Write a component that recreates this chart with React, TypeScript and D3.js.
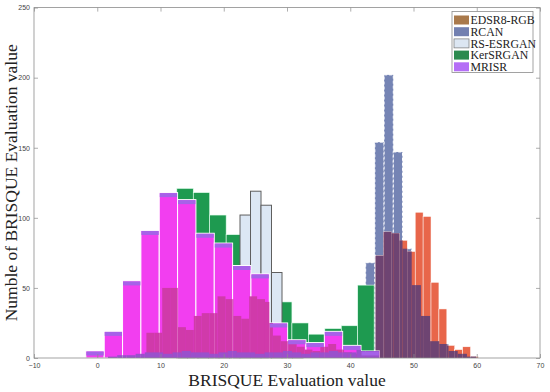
import React, { useEffect, useRef } from 'react';
import * as d3 from 'd3';

// histogram layout per method: first bin edge and bin width (BRISQUE units), then counts per bin
const edsrStart = 7.77;
const edsrWidth = 1.25;
const edsrCounts = [18, 18, 50, 50, 22, 20, 30, 32, 32, 44, 42, 30, 28, 44, 42, 40, 16, 12, 10, 8, 6, 5, 8, 10, 6, 4, 3, 3, 4,
    73, 90, 89, 84, 76, 104, 101, 54, 35, 9, 6, 8, 1];

const rcanStart = 1.70;
const rcanWidth = 1.455;
const rcanCounts = [1, 2, 2, 3, 4, 4, 3, 4, 5, 4, 4, 3, 4, 5, 4, 4, 3, 4, 4, 5, 4, 3, 4, 4, 5, 4, 4, 6,
    68, 154, 202, 147, 78, 52, 30, 12, 10, 5, 3, 1];

const rsStart = 12.61;
const rsWidth = 1.66;
const rsCounts = [20, 28, 35, 45, 55, 60, 102, 119, 109, 61, 10, 4];

const kerStart = 12.58;
const kerWidth = 2.6;
const kerCounts = [121, 118, 102, 88, 66, 50, 40, 25, 17, 21, 23, 52];

const mrisrStart = -1.8;
const mrisrWidth = 2.9;
const mrisrCounts = [5, 19, 55, 91, 118, 113, 89, 82, 66, 60, 25, 13, 11, 19, 9, 5];

const legendLabels = ['EDSR8-RGB', 'RCAN', 'RS-ESRGAN', 'KerSRGAN', 'MRISR'];
const legendColors = ['#a9794b', '#7380b0', '#dce6f2', '#2b8a4e', '#b46ef6'];

const xTicks = [-10, 0, 10, 20, 30, 40, 50, 60, 70];
const yTicks = [0, 50, 100, 150, 200, 250];

type Bin = { x0: number; x1: number; c: number };

const makeBins = (start: number, width: number, counts: number[]): Bin[] =>
    counts.map((c, i) => ({ x0: start + i * width, x1: start + (i + 1) * width, c }));

// part of histogram a that lies in front of histogram b
const overlap = (a: Bin[], b: Bin[]): Bin[] => {
    const out: Bin[] = [];
    a.forEach(p => b.forEach(q => {
        const x0 = Math.max(p.x0, q.x0);
        const x1 = Math.min(p.x1, q.x1);
        const c = Math.min(p.c, q.c);
        if (x1 > x0 && c > 0) out.push({ x0, x1, c });
    }));
    return out;
};

const App = () => {
    const svgRef = useRef<SVGSVGElement>(null);

    useEffect(() => {
        const svgWidth = 550;
        const svgHeight = 392;
        const margin = { top: 7.6, right: 10, bottom: 34, left: 34 };

        const svg = d3.select(svgRef.current)
            .attr('width', svgWidth)
            .attr('height', svgHeight)
            .html('');

        const x = d3.scaleLinear().domain([-10, 70]).range([margin.left, svgWidth - margin.right]);
        const y = d3.scaleLinear().domain([0, 250]).range([svgHeight - margin.bottom, margin.top]);

        const edsr = makeBins(edsrStart, edsrWidth, edsrCounts);
        const rcan = makeBins(rcanStart, rcanWidth, rcanCounts);
        const rs = makeBins(rsStart, rsWidth, rsCounts);
        const ker = makeBins(kerStart, kerWidth, kerCounts);
        const mrisr = makeBins(mrisrStart, mrisrWidth, mrisrCounts);

        svg.append('rect')
            .attr('width', svgWidth).attr('height', svgHeight)
            .attr('fill', '#fff');

        const plot = svg.append('g');

        const drawBars = (bins: Bin[], fill: string, stroke = 'none', strokeWidth = 0, dash: string | null = null) => {
            plot.append('g')
                .selectAll('rect')
                .data(bins)
                .enter()
                .append('rect')
                .attr('x', d => x(d.x0))
                .attr('y', d => y(d.c))
                .attr('width', d => x(d.x1) - x(d.x0))
                .attr('height', d => y(0) - y(d.c))
                .attr('fill', fill)
                .attr('stroke', stroke)
                .attr('stroke-width', strokeWidth)
                .attr('stroke-dasharray', dash);
        };

        drawBars(rcan, '#7584b4', '#ffffff', 1, '3,2');
        drawBars(edsr, '#e8664a', '#ffffff', 0.5);
        drawBars(overlap(edsr, rcan), '#6e4472');
        drawBars(ker, '#1e9a50', '#e6fff0', 0.6);
        drawBars(rs, '#dce7f4', '#5f5f5f', 1);
        drawBars(mrisr, '#f23ef0', '#ffffff', 1);
        drawBars(overlap(mrisr, edsr), '#d03aaa');
        drawBars(overlap(mrisr, rcan), '#9a50cc');

        // purple cap on top of each MRISR bar
        plot.append('g')
            .selectAll('rect')
            .data(mrisr)
            .enter()
            .append('rect')
            .attr('x', d => x(d.x0) + 0.5)
            .attr('y', d => y(d.c) + 0.5)
            .attr('width', d => x(d.x1) - x(d.x0) - 1)
            .attr('height', d => Math.min(4, y(0) - y(d.c) - 0.5))
            .attr('fill', '#a662e8');

        // axes box with inward ticks
        const axisColor = '#8c8c8c';
        const [x0, x1] = x.range();
        const [y0, y1] = y.range();

        const styleAxis = (g: d3.Selection<SVGGElement, unknown, null, undefined>) => {
            g.select('.domain').remove();
            g.selectAll('.tick line').attr('stroke', axisColor).attr('stroke-width', 0.7);
            g.selectAll('text')
                .attr('fill', '#444')
                .style('font-family', '"Liberation Sans", Arial, sans-serif')
                .style('font-size', '7px');
        };

        svg.append('g')
            .attr('transform', `translate(0,${y0})`)
            .call(d3.axisBottom(x).tickValues(xTicks).tickSize(-4).tickPadding(5))
            .call(styleAxis);
        svg.append('g')
            .attr('transform', `translate(0,${y1})`)
            .call(d3.axisTop(x).tickValues(xTicks).tickSize(-4).tickFormat(() => ''))
            .call(styleAxis);
        svg.append('g')
            .attr('transform', `translate(${x0},0)`)
            .call(d3.axisLeft(y).tickValues(yTicks).tickSize(-4).tickPadding(4))
            .call(styleAxis);
        svg.append('g')
            .attr('transform', `translate(${x1},0)`)
            .call(d3.axisRight(y).tickValues(yTicks).tickSize(-4).tickFormat(() => ''))
            .call(styleAxis);

        svg.append('rect')
            .attr('x', x0).attr('y', y1)
            .attr('width', x1 - x0).attr('height', y0 - y1)
            .attr('fill', 'none')
            .attr('stroke', axisColor)
            .attr('stroke-width', 0.8);

        const serif = '"Liberation Serif", "Times New Roman", serif';

        svg.append('text')
            .attr('x', (x0 + x1) / 2)
            .attr('y', 386)
            .attr('text-anchor', 'middle')
            .style('font-family', serif)
            .style('font-size', '17.5px')
            .attr('fill', '#222')
            .text('BRISQUE Evaluation value');

        svg.append('text')
            .attr('transform', `translate(17,${(y0 + y1) / 2}) rotate(-90)`)
            .attr('text-anchor', 'middle')
            .style('font-family', serif)
            .style('font-size', '17.5px')
            .attr('fill', '#222')
            .text('Numble of BRISQUE Evaluation value');

        // legend
        const legend = svg.append('g').attr('transform', 'translate(452,11.5)');
        legend.append('rect')
            .attr('width', 81).attr('height', 61)
            .attr('fill', '#fff')
            .attr('stroke', '#8c8c8c')
            .attr('stroke-width', 0.8);

        const items = legend.selectAll('.legend-item')
            .data(legendLabels)
            .enter()
            .append('g')
            .attr('class', 'legend-item')
            .attr('transform', (d, i) => `translate(2,${4 + i * 11.7})`);

        items.append('rect')
            .attr('width', 15).attr('height', 9)
            .attr('fill', (d, i) => legendColors[i])
            .attr('stroke', (d, i) => (i === 2 ? '#777' : 'none'))
            .attr('stroke-width', 0.7);

        items.append('text')
            .attr('x', 16.5).attr('y', 8.6)
            .style('font-family', serif)
            .style('font-size', '11.8px')
            .attr('fill', '#222')
            .text(d => d);
    }, []);

    return (
        <svg ref={svgRef} style={{ position: 'absolute', left: 0, top: 0, display: 'block' }} />
    );
};

export default App;
